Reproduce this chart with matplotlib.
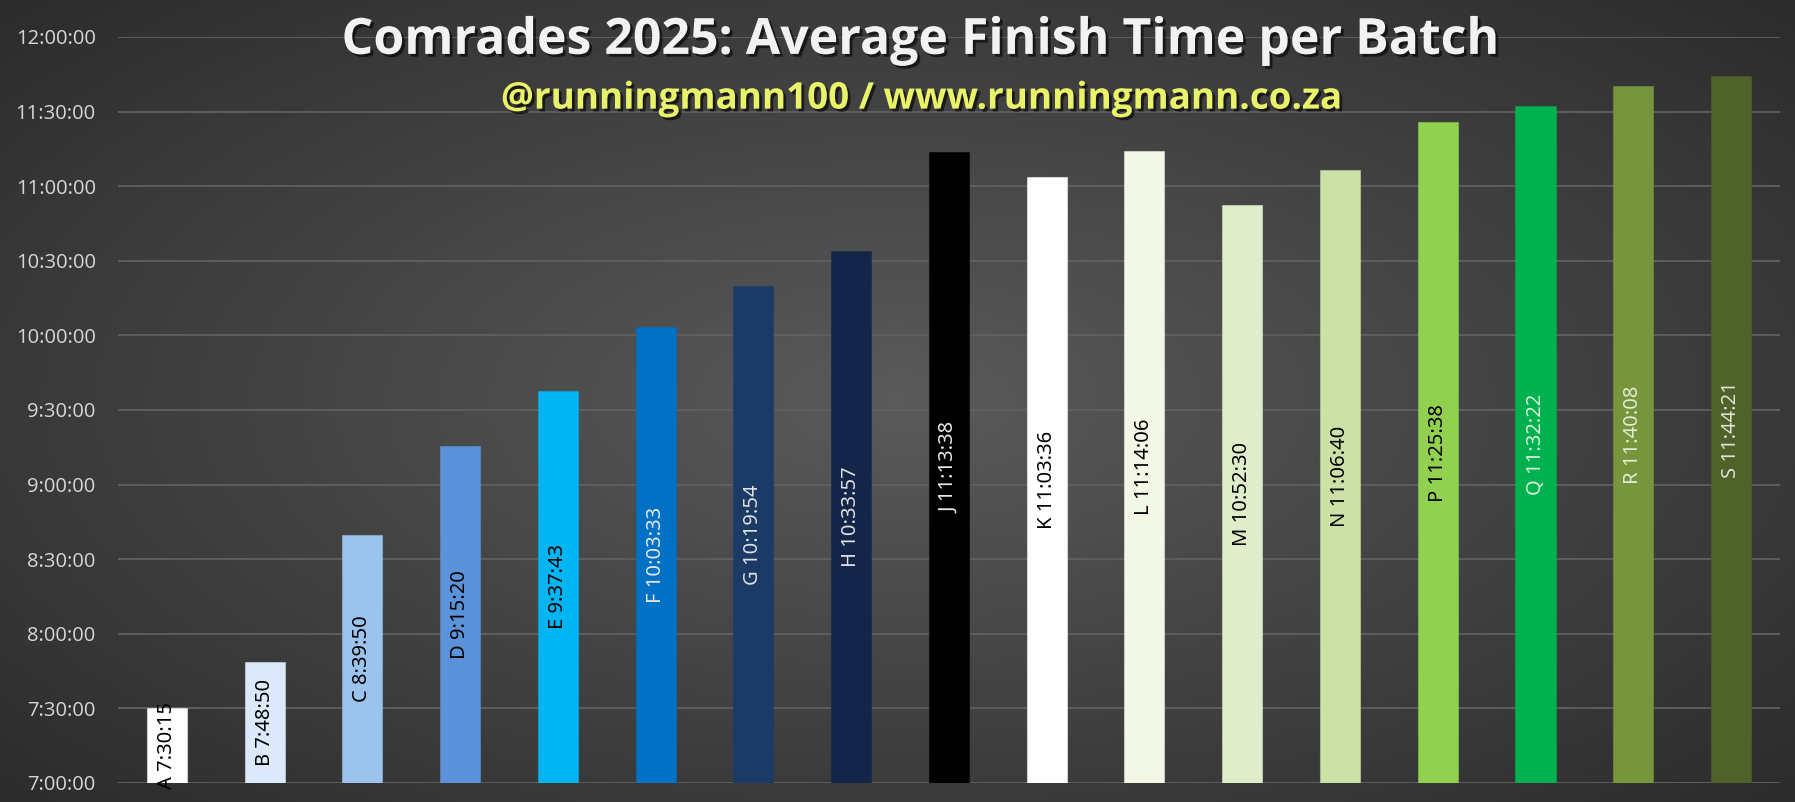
import numpy as np
import matplotlib
matplotlib.use('Agg')
import matplotlib.pyplot as plt
import matplotlib.patheffects as pe
from matplotlib.ticker import MultipleLocator, FuncFormatter

# Batch data
batches = ['A', 'B', 'C', 'D', 'E', 'F', 'G', 'H', 'J', 'K', 'L', 'M', 'N', 'P', 'Q', 'R', 'S']
finish_times = ['7:30:15', '7:48:50', '8:39:50', '9:15:20', '9:37:43', '10:03:33', '10:19:54',
                '10:33:57', '11:13:38', '11:03:36', '11:14:06', '10:52:30', '11:06:40',
                '11:25:38', '11:32:22', '11:40:08', '11:44:21']
bar_colors = ['#ffffff', '#dce9fa', '#9cc2ee', '#5b93da', '#00b5f2', '#0071c4', '#1c3a66',
              '#13264a', '#000000', '#ffffff', '#f3f8e6', '#e0edcb', '#cbe1a6',
              '#92d050', '#00b24f', '#77963c', '#4e6229']
label_colors = ['black', 'black', 'black', 'black', 'black', '#e8e8e8', '#e0e0e0',
                '#e0e0e0', '#e8e8e8', 'black', 'black', 'black', 'black',
                'black', '#d8f0dc', '#e4ead8', '#dde4d2']


def to_hours(s):
    h, m, sec = [int(p) for p in s.split(':')]
    return h + m / 60 + sec / 3600


hours = np.array([to_hours(t) for t in finish_times])
base = 7.0

fig = plt.figure(figsize=(17.95, 8.02), dpi=100)

# radial dark gradient background (dark corners, lighter middle)
bg = fig.add_axes([0, 0, 1, 1], zorder=-10)
yy, xx = np.mgrid[-1:1:400j, -1:1:900j]
r = np.sqrt((xx * 0.95) ** 2 + (yy * 0.9) ** 2)
grad = np.clip(1 - r / 1.35, 0, 1)
level = 0.165 + 0.19 * grad
bg.imshow(np.dstack([level, level, level]), aspect='auto', extent=[0, 1, 0, 1])
bg.set_axis_off()

ax = fig.add_axes([0.0657, 0.0237, 0.9259, 0.9302])
ax.patch.set_alpha(0)

x = np.arange(len(batches))
bars = ax.bar(x, hours - base, bottom=base, width=0.41, color=bar_colors,
              edgecolor=[matplotlib.colors.to_rgba(c, 0.5) for c in bar_colors],
              linewidth=0.8, zorder=3)

for xi, h, b, t, lc in zip(x, hours, batches, finish_times, label_colors):
    ax.text(xi, (base + h) / 2, f'{b} {t}', rotation=90, ha='center', va='center',
            color=lc, fontsize=14.5, family='Noto Sans', zorder=4)

ax.set_xlim(-0.5, len(batches) - 0.5)
ax.set_ylim(7, 12)
ax.yaxis.set_major_locator(MultipleLocator(0.5))
ax.yaxis.set_major_formatter(FuncFormatter(lambda v, p: f'{int(v)}:{int(round((v % 1) * 60)):02d}:00'))
ax.grid(axis='y', color='#606060', linewidth=1.3, zorder=0)
ax.set_xticks([])
ax.tick_params(axis='y', length=0, pad=16, labelsize=14.5, labelcolor='#d6d6d6')
for lab in ax.get_yticklabels():
    lab.set_family('Open Sans')
for s in ax.spines.values():
    s.set_visible(False)

shadow = [pe.withSimplePatchShadow(offset=(2, -2), shadow_rgbFace='black', alpha=0.6)]
fig.text(0.513, 0.949, 'Comrades 2025: Average Finish Time per Batch', ha='center', va='center',
         fontsize=36, fontweight='bold', family='Open Sans', color='#f2f2f2', path_effects=shadow)
fig.text(0.513, 0.877, '@runningmann100 / www.runningmann.co.za', ha='center', va='center',
         fontsize=26.5, fontweight='bold', family='Open Sans', color='#eaf26a', path_effects=shadow)

fig.savefig('out.png', dpi=100)
